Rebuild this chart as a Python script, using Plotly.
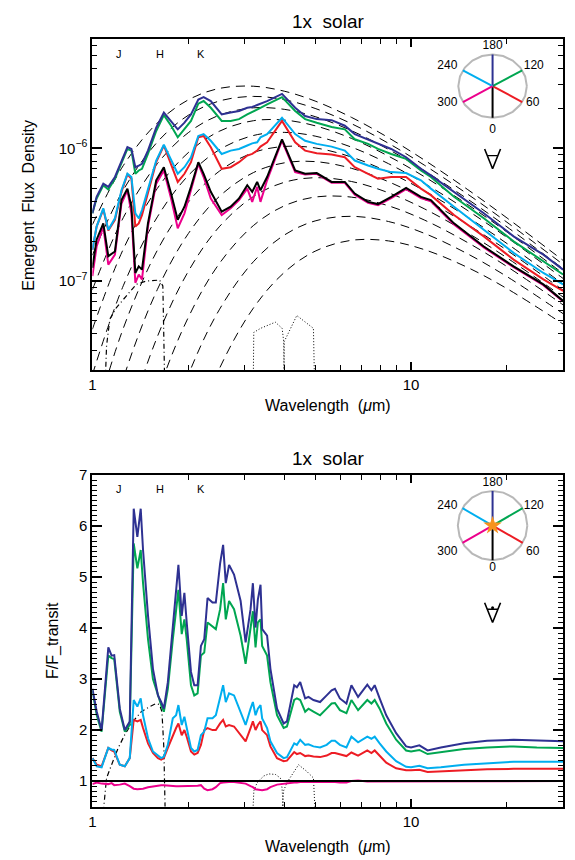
import numpy as np
import plotly.graph_objects as go

W, H = 575, 860
FONT = "Liberation Sans, Arial, sans-serif"

# ---------------- top panel: emergent flux (units of 1e-7) ----------------
wavelength_top = [1.00, 1.031, 1.082, 1.122, 1.177, 1.234, 1.288, 1.326, 1.364, 1.398,
                  1.431, 1.494, 1.586, 1.676, 1.766, 1.853, 1.945, 2.039, 2.150, 2.234,
                  2.353, 2.546, 2.716, 2.885, 3.062, 3.174, 3.289, 3.369, 3.534, 3.936,
                  4.329, 4.652, 5.058, 5.633, 6.197, 6.658, 7.33, 7.876, 8.664, 9.65,
                  10.74, 11.54, 13.64, 16.92, 20.98, 26.02, 30.0]
flux_180 = [3.24, 4.31, 5.42, 5.12, 6.08, 8.09, 10.2, 9.89, 7.21, 7.42,
            7.64, 9.61, 14.3, 18.6, 16.1, 13.9, 15.6, 18.0, 23.3, 24.3,
            22.7, 18.0, 18.6, 19.1, 20.2, 20.5, 21.2, 21.7, 22.7, 25.7,
            20.2, 17.5, 16.6, 16.3, 14.8, 12.8, 11.7, 10.8, 9.89, 8.57,
            7.01, 6.25, 4.70, 3.24, 2.17, 1.58, 1.22]
flux_120 = [3.24, 4.19, 5.27, 4.89, 5.90, 7.86, 9.89, 9.61, 6.43, 6.81,
            7.01, 9.07, 13.5, 17.8, 14.8, 12.1, 13.9, 16.1, 21.7, 22.7,
            20.2, 16.1, 16.1, 16.6, 18.0, 18.9, 19.7, 20.2, 21.4, 24.3,
            19.1, 16.6, 15.6, 14.5, 13.9, 11.7, 10.8, 9.89, 9.07, 8.32,
            6.81, 6.08, 4.31, 2.97, 1.99, 1.41, 1.12]
flux_240 = [1.72, 2.57, 3.53, 2.43, 2.97, 4.83, 6.43, 6.08, 3.24, 2.97,
            3.43, 4.83, 8.09, 10.65, 8.09, 6.43, 7.21, 8.57, 12.4, 12.8,
            11.4, 9.07, 9.61, 9.89, 10.5, 10.9, 11.1, 12.1, 12.8, 17.0,
            12.8, 11.4, 10.8, 10.3, 9.61, 8.09, 7.42, 7.01, 6.62, 6.51,
            5.74, 4.97, 3.63, 2.43, 1.63, 1.15, 0.944]
flux_60 = [1.72, 2.57, 3.47, 2.40, 2.89, 4.70, 6.36, 5.90, 2.57, 2.72,
           3.14, 4.56, 7.86, 10.5, 7.42, 5.58, 6.43, 7.86, 12.1, 12.4,
           10.2, 7.01, 7.21, 7.86, 8.82, 9.07, 9.61, 10.3, 11.1, 16.1,
           11.1, 9.61, 9.18, 8.97, 8.57, 7.21, 6.43, 5.90, 6.08, 6.08,
           4.97, 4.44, 3.14, 2.17, 1.45, 1.03, 0.842]
flux_0 = [1.26, 2.05, 2.72, 1.54, 1.67, 4.07, 4.97, 3.63, 1.15, 1.29,
          1.22, 2.72, 5.74, 7.21, 4.56, 2.89, 3.63, 5.12, 7.86, 6.43,
          4.70, 3.33, 3.63, 4.19, 5.27, 4.70, 5.58, 4.83, 6.08, 11.7,
          6.81, 6.43, 6.51, 5.58, 5.58, 4.56, 3.95, 3.80, 4.31, 5.03,
          4.31, 4.07, 2.72, 1.82, 1.29, 0.944, 0.709]
flux_300 = [1.09, 1.82, 2.57, 1.33, 1.58, 3.84, 4.83, 3.24, 0.97, 1.12,
            1.03, 2.57, 5.42, 6.81, 4.19, 2.50, 3.24, 4.83, 7.64, 6.08,
            4.19, 3.14, 3.53, 4.07, 4.97, 3.95, 5.12, 3.95, 5.74, 11.4,
            6.62, 6.36, 6.43, 5.51, 5.50, 4.47, 3.88, 3.73, 4.22, 4.93,
            4.22, 3.99, 2.67, 1.79, 1.27, 0.93, 0.70]

# blackbody reference curves (units of 1e-7)
bb_wavelength = [1.0, 1.25, 1.6, 2.0, 2.5, 3.2, 4.0, 5.0, 6.5, 8.5, 11, 15, 20, 30]
bb_700 = [1.5e-5, 4.7e-4, 0.0081, 0.0539, 0.217, 0.625, 1.160, 1.678, 2.027, 2.006, 1.726, 1.270, 0.877, 0.474]
bb_800 = [1.9e-4, 3.6e-3, 0.0403, 0.196, 0.606, 1.397, 2.218, 2.837, 3.074, 2.808, 2.290, 1.610, 1.080, 0.568]
bb_900 = [1.43e-3, 0.0180, 0.1406, 0.532, 1.350, 2.617, 3.684, 4.292, 4.288, 3.687, 2.886, 1.959, 1.286, 0.662]
bb_1000 = [7.09e-3, 0.0646, 0.382, 1.183, 2.559, 4.331, 5.541, 6.005, 5.626, 4.623, 3.505, 2.317, 1.495, 0.758]
bb_1100 = [0.0262, 0.184, 0.866, 2.277, 4.328, 6.561, 7.772, 7.942, 7.074, 5.60, 4.141, 2.680, 1.705, 0.853]
bb_1200 = [0.0782, 0.440, 1.711, 3.930, 6.715, 9.285, 10.33, 10.07, 8.60, 6.617, 4.792, 3.047, 1.917, 0.949]
bb_1300 = [0.197, 0.921, 3.049, 6.241, 9.744, 12.49, 13.19, 12.36, 10.21, 7.658, 5.452, 3.418, 2.130, 1.046]
bb_1400 = [0.433, 1.736, 5.001, 9.286, 13.43, 16.14, 16.32, 14.79, 11.88, 8.723, 6.122, 3.791, 2.342, 1.141]
bb_1500 = [0.860, 3.000, 7.673, 13.12, 17.75, 20.19, 19.67, 17.33, 13.59, 9.804, 6.795, 4.165, 2.558, 1.238]
bb_1600 = [1.566, 4.847, 11.17, 17.75, 22.70, 24.61, 23.23, 19.98, 15.34, 10.90, 7.478, 4.543, 2.773, 1.334]
bb_1700 = [2.658, 7.405, 15.58, 23.19, 28.25, 29.37, 26.95, 22.71, 17.12, 12.01, 8.168, 4.921, 2.988, 1.430]

# band curves, top panel
jh_wl_top = [1.085, 1.108, 1.135, 1.19, 1.279, 1.374, 1.476, 1.626, 1.664, 1.684, 1.696]
jh_flux_top = [0.08, 0.327, 0.518, 0.632, 0.773, 0.945, 1.0, 1.017, 0.918, 0.292, 0.08]
ch1_wl_top = [3.19, 3.21, 3.37, 3.75, 3.94, 3.985, 4.01]
ch1_flux_top = [0.1, 0.41, 0.44, 0.49, 0.44, 0.35, 0.1]
ch2_wl_top = [3.985, 4.0, 4.13, 4.38, 4.94, 5.0]
ch2_flux_top = [0.1, 0.35, 0.41, 0.55, 0.44, 0.1]

# ---------------- bottom panel: F / F_transit ----------------
wavelength_bot = [1.0, 1.032, 1.069, 1.122, 1.149, 1.171, 1.219, 1.264, 1.310, 1.348,
                  1.384, 1.418, 1.442, 1.495, 1.549, 1.606, 1.644, 1.676, 1.725, 1.788,
                  1.831, 1.862, 1.907, 1.944, 1.977, 2.039, 2.088, 2.139, 2.191, 2.244,
                  2.298, 2.382, 2.440, 2.517, 2.572, 2.622, 2.685, 2.783, 2.919, 3.026,
                  3.136, 3.189, 3.251, 3.306, 3.370, 3.410, 3.534, 3.620, 3.797, 3.983,
                  4.079, 4.299, 4.383, 4.489, 4.653, 4.766, 4.940, 5.182, 5.435, 5.633,
                  5.77, 5.98, 6.27, 6.50, 6.82, 7.29, 7.51, 7.69, 7.97, 8.36,
                  8.98, 9.65, 10.0, 10.62, 11.27, 12.40, 14.66, 17.33, 20.99, 24.81, 30.0]
ratio_180 = [2.81, 2.36, 2.00, 3.62, 3.46, 3.47, 2.42, 2.00, 2.17, 6.34,
             5.79, 6.34, 5.53, 4.24, 3.20, 2.68, 2.55, 2.42, 2.94, 4.04,
             4.69, 5.24, 4.24, 4.69, 4.11, 3.14, 2.88, 2.88, 3.65, 3.78,
             4.59, 4.50, 4.50, 5.27, 5.63, 4.88, 5.24, 5.05, 4.53, 3.72,
             4.37, 4.88, 4.01, 4.56, 4.85, 3.98, 3.85, 3.20, 2.42, 2.13,
             2.17, 2.88, 2.84, 2.94, 2.62, 2.65, 2.59, 2.55, 2.68, 2.78,
             2.81, 2.62, 2.52, 2.88, 2.65, 2.89, 2.78, 2.88, 2.62, 2.29,
             1.94, 1.68, 1.66, 1.70, 1.60, 1.66, 1.74, 1.79, 1.81, 1.79, 1.78]
ratio_120 = [2.78, 2.29, 1.97, 3.46, 3.41, 3.39, 2.36, 1.97, 2.10, 5.66,
             5.17, 5.53, 4.88, 3.78, 3.00, 2.68, 2.49, 2.36, 2.81, 3.78,
             4.30, 4.75, 3.88, 4.17, 3.78, 2.88, 2.68, 2.72, 3.46, 3.52,
             4.11, 4.04, 3.98, 4.37, 4.88, 4.17, 4.53, 4.37, 3.85, 3.30,
             3.98, 4.33, 3.62, 4.11, 4.17, 3.65, 3.46, 2.94, 2.29, 2.04,
             2.07, 2.59, 2.62, 2.59, 2.36, 2.42, 2.36, 2.29, 2.42, 2.52,
             2.53, 2.39, 2.33, 2.59, 2.39, 2.59, 2.52, 2.59, 2.42, 2.13,
             1.81, 1.60, 1.58, 1.61, 1.53, 1.57, 1.63, 1.66, 1.68, 1.66, 1.65]
ratio_240 = [1.45, 1.29, 1.27, 1.65, 1.62, 1.61, 1.32, 1.29, 1.45, 2.59,
             2.46, 2.62, 2.29, 1.84, 1.58, 1.49, 1.45, 1.48, 1.71, 2.23,
             2.29, 2.49, 2.10, 2.26, 2.04, 1.65, 1.58, 1.61, 1.90, 1.97,
             2.23, 2.23, 2.29, 2.62, 2.88, 2.55, 2.72, 2.68, 2.36, 2.10,
             2.42, 2.55, 2.29, 2.42, 2.49, 2.23, 2.04, 1.78, 1.55, 1.45,
             1.47, 1.74, 1.71, 1.81, 1.71, 1.72, 1.68, 1.66, 1.71, 1.79,
             1.79, 1.71, 1.66, 1.87, 1.76, 1.87, 1.83, 1.87, 1.74, 1.58,
             1.39, 1.28, 1.27, 1.30, 1.25, 1.27, 1.32, 1.35, 1.38, 1.38, 1.38]
ratio_60 = [1.45, 1.32, 1.29, 1.65, 1.60, 1.58, 1.32, 1.29, 1.45, 2.20,
            2.17, 2.20, 2.04, 1.74, 1.55, 1.45, 1.42, 1.45, 1.65, 1.90,
            2.04, 2.13, 1.90, 2.00, 1.87, 1.58, 1.52, 1.55, 1.71, 2.00,
            2.04, 2.00, 2.00, 2.13, 2.20, 2.07, 2.10, 2.07, 1.90, 1.78,
            2.04, 2.17, 2.00, 2.10, 2.17, 2.00, 1.90, 1.68, 1.45, 1.39,
            1.40, 1.57, 1.53, 1.55, 1.49, 1.50, 1.48, 1.47, 1.50, 1.55,
            1.55, 1.52, 1.49, 1.56, 1.50, 1.60, 1.55, 1.60, 1.49, 1.36,
            1.25, 1.21, 1.21, 1.22, 1.18, 1.19, 1.22, 1.23, 1.24, 1.24, 1.24]
ratio_300 = [0.94, 0.97, 0.95, 0.94, 0.96, 0.92, 0.93, 0.95, 0.90, 0.85,
             0.84, 0.84, 0.85, 0.88, 0.90, 0.92, 0.92, 0.92, 0.91, 0.90,
             0.90, 0.90, 0.90, 0.90, 0.90, 0.91, 0.91, 0.91, 0.92, 0.85,
             0.82, 0.84, 0.88, 0.96, 0.97, 0.98, 0.98, 0.98, 0.97, 0.95,
             0.90, 0.88, 0.84, 0.83, 0.82, 0.82, 0.84, 0.88, 0.93, 0.95,
             0.96, 0.97, 0.97, 0.98, 0.98, 0.98, 0.99, 0.99, 0.99, 0.99,
             0.98, 0.97, 0.97, 1.00, 1.01, 0.99, 0.99, 0.99, 0.99, 0.99,
             1.0, 1.0, 1.0, 1.0, 1.0, 1.0, 1.0, 1.0, 1.0, 1.0, 1.0]
ratio_0_wl = [1.0, 30.0]
ratio_0 = [1.0, 1.0]

jh_wl_bot = [1.082, 1.108, 1.149, 1.205, 1.264, 1.342, 1.424, 1.512, 1.586, 1.625, 1.653, 1.676, 1.684, 1.692]
jh_ratio_bot = [0.4, 1.06, 1.32, 1.65, 1.91, 2.17, 2.36, 2.46, 2.52, 2.50, 2.36, 1.65, 1.0, 0.4]
ch1_wl_bot = [3.189, 3.212, 3.289, 3.451, 3.577, 3.752, 3.890, 3.936, 3.983]
ch1_ratio_bot = [0.4, 0.81, 0.97, 1.10, 1.14, 1.13, 1.06, 0.87, 0.4]
ch2_wl_bot = [3.936, 3.983, 4.079, 4.279, 4.436, 4.708, 4.940, 5.0]
ch2_ratio_bot = [0.4, 0.81, 0.97, 1.16, 1.32, 1.19, 1.06, 0.4]

band_names = ["J", "H", "K"]
band_wl = [1.21, 1.63, 2.19]
phase_labels = ["0", "60", "120", "180", "240", "300"]

C_NAVY, C_GREEN, C_RED = "#2E3192", "#00A651", "#ED1C24"
C_CYAN, C_MAG, C_BLK = "#00AEEF", "#EC008C", "#000000"
phase_colors = {"0": C_BLK, "60": C_RED, "120": C_GREEN, "180": C_NAVY, "240": C_CYAN, "300": C_MAG}

SC = 1e-7
fig = go.Figure()

def add(x, y, color, width=2, dash=None, xa="x", ya="y", shape="linear"):
    fig.add_trace(go.Scatter(x=x, y=y, mode="lines", xaxis=xa, yaxis=ya,
                             line=dict(color=color, width=width, dash=dash, shape=shape),
                             hoverinfo="skip", showlegend=False))

# top panel
for bb in [bb_700, bb_800, bb_900, bb_1000, bb_1100, bb_1200, bb_1300, bb_1400, bb_1500, bb_1600, bb_1700]:
    add(bb_wavelength, [v * SC for v in bb], "black", 1, "9px,6px", shape="spline")
add(jh_wl_top, [v * SC for v in jh_flux_top], "black", 1.2, "5px,3px,1px,3px")
add(ch1_wl_top, [v * SC for v in ch1_flux_top], "black", 1, "1px,2px")
add(ch2_wl_top, [v * SC for v in ch2_flux_top], "black", 1, "1px,2px")
for f, c in [(flux_60, C_RED), (flux_240, C_CYAN), (flux_120, C_GREEN), (flux_180, C_NAVY),
             (flux_300, C_MAG), (flux_0, C_BLK)]:
    add(wavelength_top, [v * SC for v in f], c, 2)

# bottom panel
add(jh_wl_bot, jh_ratio_bot, "black", 1.2, "5px,3px,1px,3px", "x2", "y2")
add(ch1_wl_bot, ch1_ratio_bot, "black", 1, "1px,2px", "x2", "y2")
add(ch2_wl_bot, ch2_ratio_bot, "black", 1, "1px,2px", "x2", "y2")
for r, c in [(ratio_60, C_RED), (ratio_240, C_CYAN), (ratio_120, C_GREEN), (ratio_180, C_NAVY),
             (ratio_300, C_MAG)]:
    add(wavelength_bot, r, c, 2, None, "x2", "y2")
add(ratio_0_wl, ratio_0, C_BLK, 2, None, "x2", "y2")

# ---------------- legends (pixel-scaled helper axes) ----------------
def legend(xa, ya, rx, ry, label_pos, eye_top, star):
    t = np.linspace(0, 2 * np.pi, 21)
    add(list(rx * np.cos(t)), list(ry * np.sin(t)), "#B8B8B8", 2, None, xa, ya)
    ang = {"180": 90, "120": 30, "60": -30, "0": -90, "300": -150, "240": 150}
    for lab in phase_labels:
        a = np.radians(ang[lab])
        add([0, rx * np.cos(a)], [0, ry * np.sin(a)], phase_colors[lab], 2, None, xa, ya)
    fig.add_trace(go.Scatter(x=[p[0] for p in label_pos.values()], y=[p[1] for p in label_pos.values()],
                             text=list(label_pos.keys()), mode="text", xaxis=xa, yaxis=ya,
                             textfont=dict(family=FONT, size=12, color="black"),
                             hoverinfo="skip", showlegend=False))
    if star:
        fig.add_trace(go.Scatter(x=[0], y=[0], mode="markers", xaxis=xa, yaxis=ya,
                                 marker=dict(symbol="star", size=14, color="#F7931E"),
                                 hoverinfo="skip", showlegend=False))
    hgt = 20
    add([-8, 0, 8], [eye_top, eye_top - hgt, eye_top], "black", 1.6, None, xa, ya)
    add([-5.3, 5.3], [eye_top - hgt / 3, eye_top - hgt / 3], "black", 1.4, None, xa, ya)
    if star:
        fig.add_trace(go.Scatter(x=[0], y=[eye_top - hgt / 3 + 1.5], mode="markers", xaxis=xa, yaxis=ya,
                                 marker=dict(size=3, color="black"), hoverinfo="skip", showlegend=False))

legend("x3", "y3", 34.5, 32,
       {"180": (0, 41), "120": (41.5, 20), "60": (40.5, -17.5), "0": (0, -44.5),
        "300": (-45.5, -17.5), "240": (-45.5, 20)}, -63.5, False)
legend("x4", "y4", 35, 35,
       {"180": (0, 42.5), "120": (41.5, 19.6), "60": (40.5, -27), "0": (0, -42.7),
        "300": (-45.5, -27), "240": (-45.5, 19.6)}, -78, True)

# ---------------- layout ----------------
xdom = [89 / W, 563 / W]
top_dom = [1 - 365 / H, 1 - 30 / H]
bot_dom = [1 - 806 / H, 1 - 471 / H]

minor_x = [2, 3, 4, 5, 6, 7, 8, 9, 20, 30]
minor_ytop = [m * 10.0 ** e for e in (-8, -7, -6) for m in range(2, 10)]

axis_common = dict(showgrid=False, zeroline=False, showline=True, linecolor="black", linewidth=2,
                   mirror="ticks", ticks="inside", tickcolor="black", tickwidth=1.5,
                   tickfont=dict(family=FONT, size=15, color="black"))

xa = dict(axis_common, type="log", range=[0, np.log10(30)], tickvals=[1, 10], ticktext=["1", "10"],
          ticklen=8, minor=dict(tickvals=minor_x, ticks="inside", ticklen=5, tickwidth=1, tickcolor="black"),
          domain=xdom)

layout = dict(
    width=W, height=H, margin=dict(l=0, r=0, t=0, b=0),
    paper_bgcolor="white", plot_bgcolor="rgba(0,0,0,0)", showlegend=False,
    xaxis=dict(xa, anchor="y"),
    yaxis=dict(axis_common, type="log", range=[np.log10(2.13e-8), np.log10(6.7e-6)],
               tickvals=[1e-7, 1e-6], ticktext=["10<sup>−7</sup>", "10<sup>−6</sup>"], ticklen=10,
               minor=dict(tickvals=minor_ytop, ticks="inside", ticklen=5, tickwidth=1, tickcolor="black"),
               domain=top_dom, anchor="x"),
    xaxis2=dict(xa, anchor="y2"),
    yaxis2=dict(axis_common, range=[0.5, 7], tickvals=[1, 2, 3, 4, 5, 6, 7], ticklen=10,
                minor=dict(dtick=0.1, ticks="inside", ticklen=5, tickwidth=1, tickcolor="black"),
                domain=bot_dom, anchor="x2"),
)
for ax_x, ax_y, cy in [("xaxis3", "yaxis3", 78), ("xaxis4", "yaxis4", 522)]:
    layout[ax_x] = dict(domain=[(492 - 60) / W, (492 + 60) / W], range=[-60, 60], visible=False,
                        fixedrange=True, anchor=ax_y.replace("axis", ""))
    layout[ax_y] = dict(domain=[1 - (cy + 100) / H, 1 - (cy - 60) / H], range=[-100, 60], visible=False,
                        fixedrange=True, anchor=ax_x.replace("axis", ""))
fig.update_layout(**layout)

ann = []
def text(x, y, s, size, xref="paper", angle=0):
    ann.append(dict(x=x, y=y, xref=xref, yref="paper", text=s, showarrow=False, textangle=angle,
                    xanchor="center", yanchor="middle", font=dict(family=FONT, size=size, color="black")))

for ty in (13, 454):
    text(326 / W, 1 - ty / H, "1x  solar", 19)
for ty in (401, 846):
    text(326 / W, 1 - ty / H, "Wavelength  (<i>μ</i>m)", 16)
text(25 / W, 1 - 198 / H, "Emergent  Flux  Density", 16, angle=-90)
text(50 / W, 1 - 638 / H, "F/F_transit", 16, angle=-90)
for ty in (45, 485):
    for nm, wl in zip(band_names, band_wl):
        text(np.log10(wl), 1 - ty / H, nm, 11, xref="x")
fig.update_layout(annotations=ann)

fig.write_html("out.html")
